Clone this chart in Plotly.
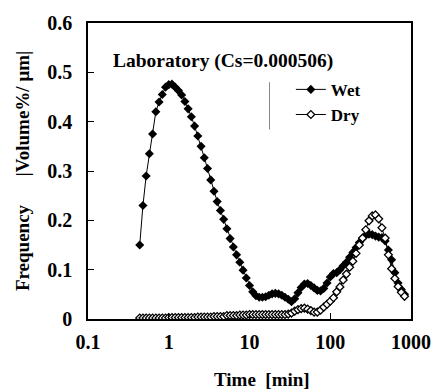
import plotly.graph_objects as go

# Time [min] (shared grid for both series)
time_min = [0.437, 0.479, 0.525, 0.575, 0.631, 0.692, 0.759, 0.832, 0.912, 1.000,
            1.096, 1.202, 1.318, 1.445, 1.585, 1.738, 1.905, 2.089, 2.291, 2.512,
            2.754, 3.020, 3.311, 3.631, 3.981, 4.365, 4.786, 5.248, 5.754, 6.310,
            6.918, 7.586, 8.318, 9.120, 10.00, 10.96, 12.02, 13.18, 14.45, 15.85,
            17.38, 19.05, 20.89, 22.91, 25.12, 27.54, 30.20, 33.11, 36.31, 39.81,
            43.65, 47.86, 52.48, 57.54, 63.10, 69.18, 75.86, 83.18, 91.20, 100.0,
            109.6, 120.2, 131.8, 144.5, 158.5, 173.8, 190.5, 208.9, 229.1, 251.2,
            275.4, 302.0, 331.1, 363.1, 398.1, 436.5, 478.6, 524.8, 575.4, 631.0,
            691.8, 758.6, 831.8]

wet = [0.150, 0.230, 0.290, 0.335, 0.375, 0.420, 0.440, 0.455, 0.470, 0.475,
       0.476, 0.470, 0.463, 0.454, 0.441, 0.426, 0.410, 0.391, 0.371, 0.350,
       0.327, 0.305, 0.282, 0.259, 0.238, 0.220, 0.202, 0.183, 0.163, 0.146,
       0.130, 0.115, 0.099, 0.083, 0.068, 0.055, 0.047, 0.044, 0.044, 0.045,
       0.048, 0.051, 0.052, 0.051, 0.048, 0.044, 0.040, 0.035, 0.041, 0.053,
       0.064, 0.071, 0.072, 0.068, 0.063, 0.058, 0.057, 0.062, 0.073, 0.085,
       0.092, 0.094, 0.100, 0.108, 0.115, 0.125, 0.135, 0.145, 0.155, 0.163,
       0.170, 0.172, 0.171, 0.168, 0.166, 0.165, 0.158, 0.140, 0.120, 0.094,
       0.073, 0.060, 0.050]

dry = [0.002, 0.002, 0.002, 0.002, 0.002, 0.002, 0.002, 0.002, 0.002, 0.003,
       0.003, 0.003, 0.003, 0.003, 0.003, 0.003, 0.003, 0.003, 0.004, 0.004,
       0.004, 0.004, 0.004, 0.005, 0.005, 0.005, 0.005, 0.007, 0.007, 0.007,
       0.007, 0.008, 0.008, 0.008, 0.009, 0.009, 0.009, 0.009, 0.009, 0.009,
       0.009, 0.009, 0.009, 0.009, 0.009, 0.009, 0.010, 0.012, 0.016, 0.019,
       0.021, 0.022, 0.020, 0.017, 0.014, 0.014, 0.018, 0.024, 0.030, 0.036,
       0.043, 0.055, 0.065, 0.079, 0.091, 0.105, 0.117, 0.133, 0.150, 0.164,
       0.181, 0.199, 0.209, 0.211, 0.203, 0.185, 0.164, 0.130, 0.102, 0.082,
       0.066, 0.054, 0.046]

x_tickvals = [0.1, 1, 10, 100, 1000]
x_ticktext = ["0.1", "1", "10", "100", "1000"]

FONT = "'Times New Roman', 'Liberation Serif', serif"

fig = go.Figure()
fig.add_trace(go.Scatter(
    x=time_min, y=wet, name="<b>Wet</b>", mode="lines+markers",
    line=dict(color="black", width=1),
    marker=dict(symbol="diamond", size=7, color="black", line=dict(width=0)),
))
fig.add_trace(go.Scatter(
    x=time_min, y=dry, name="<b>Dry</b>", mode="lines+markers",
    line=dict(color="black", width=1),
    marker=dict(symbol="diamond", size=6, color="white", line=dict(color="black", width=1.3)),
))

fig.update_layout(
    width=443, height=390,
    margin=dict(l=88, r=22, t=20, b=71),
    paper_bgcolor="white", plot_bgcolor="white",
    font=dict(family=FONT, size=18, color="black"),
    showlegend=True,
    legend=dict(
        x=0.628, y=0.835, xanchor="left", yanchor="top",
        bgcolor="rgba(0,0,0,0)", borderwidth=0,
        font=dict(family=FONT, size=17, color="black"),
        itemwidth=30, tracegroupgap=0,
    ),
    xaxis=dict(
        type="log", range=[-1, 3],
        tickvals=x_tickvals, ticktext=x_ticktext,
        ticks="inside", ticklen=6, tickwidth=1, tickcolor="black",
        showline=True, linecolor="black", linewidth=1.5, mirror=True,
        showgrid=False, zeroline=False,
        tickfont=dict(family=FONT, size=20, weight="bold"),
        ticklabelstandoff=4,
    ),
    yaxis=dict(
        range=[0, 0.6], dtick=0.1, tick0=0,
        ticks="inside", ticklen=6, tickwidth=1, tickcolor="black",
        showline=True, linecolor="black", linewidth=1.5, mirror=True,
        showgrid=False, zeroline=False,
        tickfont=dict(family=FONT, size=20, weight="bold"),
        ticklabelstandoff=10,
    ),
)

fig.add_annotation(
    text="<b>Laboratory (Cs=0.000506)</b>", xref="paper", yref="paper",
    x=0.418, y=0.87, xanchor="center", yanchor="middle", showarrow=False,
    font=dict(family=FONT, size=19.5, color="black"),
)
fig.add_annotation(
    text="<b>Time\u00a0\u00a0[min]</b>", xref="paper", yref="paper",
    x=0.54, y=-0.204, xanchor="center", yanchor="middle", showarrow=False,
    font=dict(family=FONT, size=19, color="black"),
)
fig.add_annotation(
    text="<b>Frequency\u00a0\u00a0\u00a0\u00a0\u00a0\u00a0|Volume%/ μm|</b>", xref="paper", yref="paper",
    x=-0.204, y=0.5, xanchor="center", yanchor="middle", showarrow=False,
    textangle=-90,
    font=dict(family=FONT, size=19, color="black"),
)
# thin grey separator line left of the legend
fig.add_shape(type="line", xref="paper", yref="paper",
              x0=0.562, x1=0.562, y0=0.64, y1=0.80,
              line=dict(color="#888888", width=1))

fig.write_html("out.html")
